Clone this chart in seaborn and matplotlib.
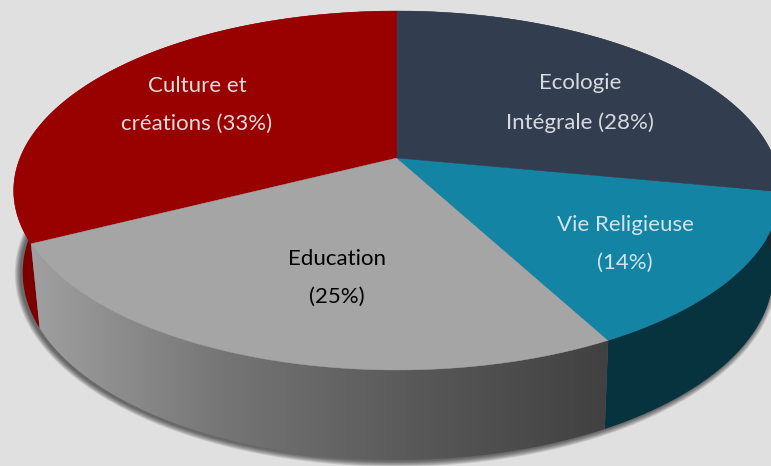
import numpy as np
import matplotlib
matplotlib.use("Agg")
import matplotlib.pyplot as plt
import seaborn as sns

# slice values, counter clockwise from the top
names = ["Culture et\ncréations (33%)", "Education\n(25%)", "Vie Religieuse\n(14%)", "Ecologie\nIntégrale (28%)"]
values = [32.5, 25.3, 14.2, 28.0]
top_colors = ["#990000", "#a5a5a5", "#1384a3", "#323e50"]
wall_colors = ["#7c0000", None, "#07333f", "#1c2530"]
text_colors = ["#e0dcdc", "#000000", "#cfe3e8", "#d8dade"]
label_pos = [(197, 105), (337, 278), (625, 244), (580, 103)]

W, H = 771, 466
cx, cy = 397, 158        # apex of the pie
RX, K, A = 377, 0.181, 173.6  # perspective of the top face
low_x, low_y, low_rx, low_ry = 398, 272, 375, 188  # bottom rim
top_x, top_y, top_rx, top_ry = 397, 190, 383, 180  # top rim ellipse


def rim(t):
    X, Y = np.cos(t), np.sin(t)
    d = 1 + K * Y
    return cx + RX * X / d, cy - A * Y / d


def low_rim(t):
    x, y = rim(t)
    return (low_x + (x - top_x) / top_rx * low_rx,
            low_y + (y - top_y) / top_ry * low_ry)


sns.set_theme(style="white")
plt.rcParams["font.family"] = ["Lato", "DejaVu Sans"]
fig = plt.figure(figsize=(W / 100, H / 100), dpi=100, facecolor="#e0e0e0")
ax = fig.add_axes([0, 0, 1, 1])
ax.set_xlim(0, W)
ax.set_ylim(H, 0)
ax.axis("off")

angles = np.pi / 2 + np.cumsum([0] + values) / sum(values) * 2 * np.pi

# soft shadow under the disc
tt = np.linspace(0, 2 * np.pi, 400)
sx, sy = low_rim(tt)
for d in np.arange(6, 0, -0.5):
    ax.fill(low_x + (sx - low_x) * (1 + d / low_rx) - 2, low_y + 1 + (sy - low_y) * (1 + d / low_ry),
            color="black", alpha=0.06, lw=0, zorder=1)

# side walls
gray_cmap = sns.blend_palette(["#a0a0a0", "#757575", "#585858", "#404040"], as_cmap=True)
for i in range(len(values)):
    t = np.linspace(angles[i], angles[i + 1], 200)
    x1, y1 = rim(t)
    x2, y2 = low_rim(t)
    px = np.r_[x1, x2[::-1]]
    py = np.r_[y1, y2[::-1]]
    if wall_colors[i] is None:
        poly = ax.fill(px, py, color="#666666", lw=0, zorder=2)[0]
        im = ax.imshow(np.linspace(0, 1, 256)[None, :], cmap=gray_cmap, extent=(30, 615, 470, 240),
                       aspect="auto", zorder=2.1)
        im.set_clip_path(poly)
        ax.set_xlim(0, W)
        ax.set_ylim(H, 0)
    else:
        ax.fill(px, py, color=wall_colors[i], lw=0, zorder=2)

# top faces
for i in range(len(values)):
    t = np.linspace(angles[i], angles[i + 1], 200)
    x1, y1 = rim(t)
    ax.fill(np.r_[cx, x1], np.r_[cy, y1], color=top_colors[i], lw=0.3, ec=top_colors[i], zorder=3)

# labels
for i in range(len(values)):
    ax.text(label_pos[i][0], label_pos[i][1], names[i], ha="center", va="center", color=text_colors[i],
            fontsize=16, linespacing=2.12, zorder=5)

fig.savefig("out.png", dpi=100, facecolor=fig.get_facecolor())
